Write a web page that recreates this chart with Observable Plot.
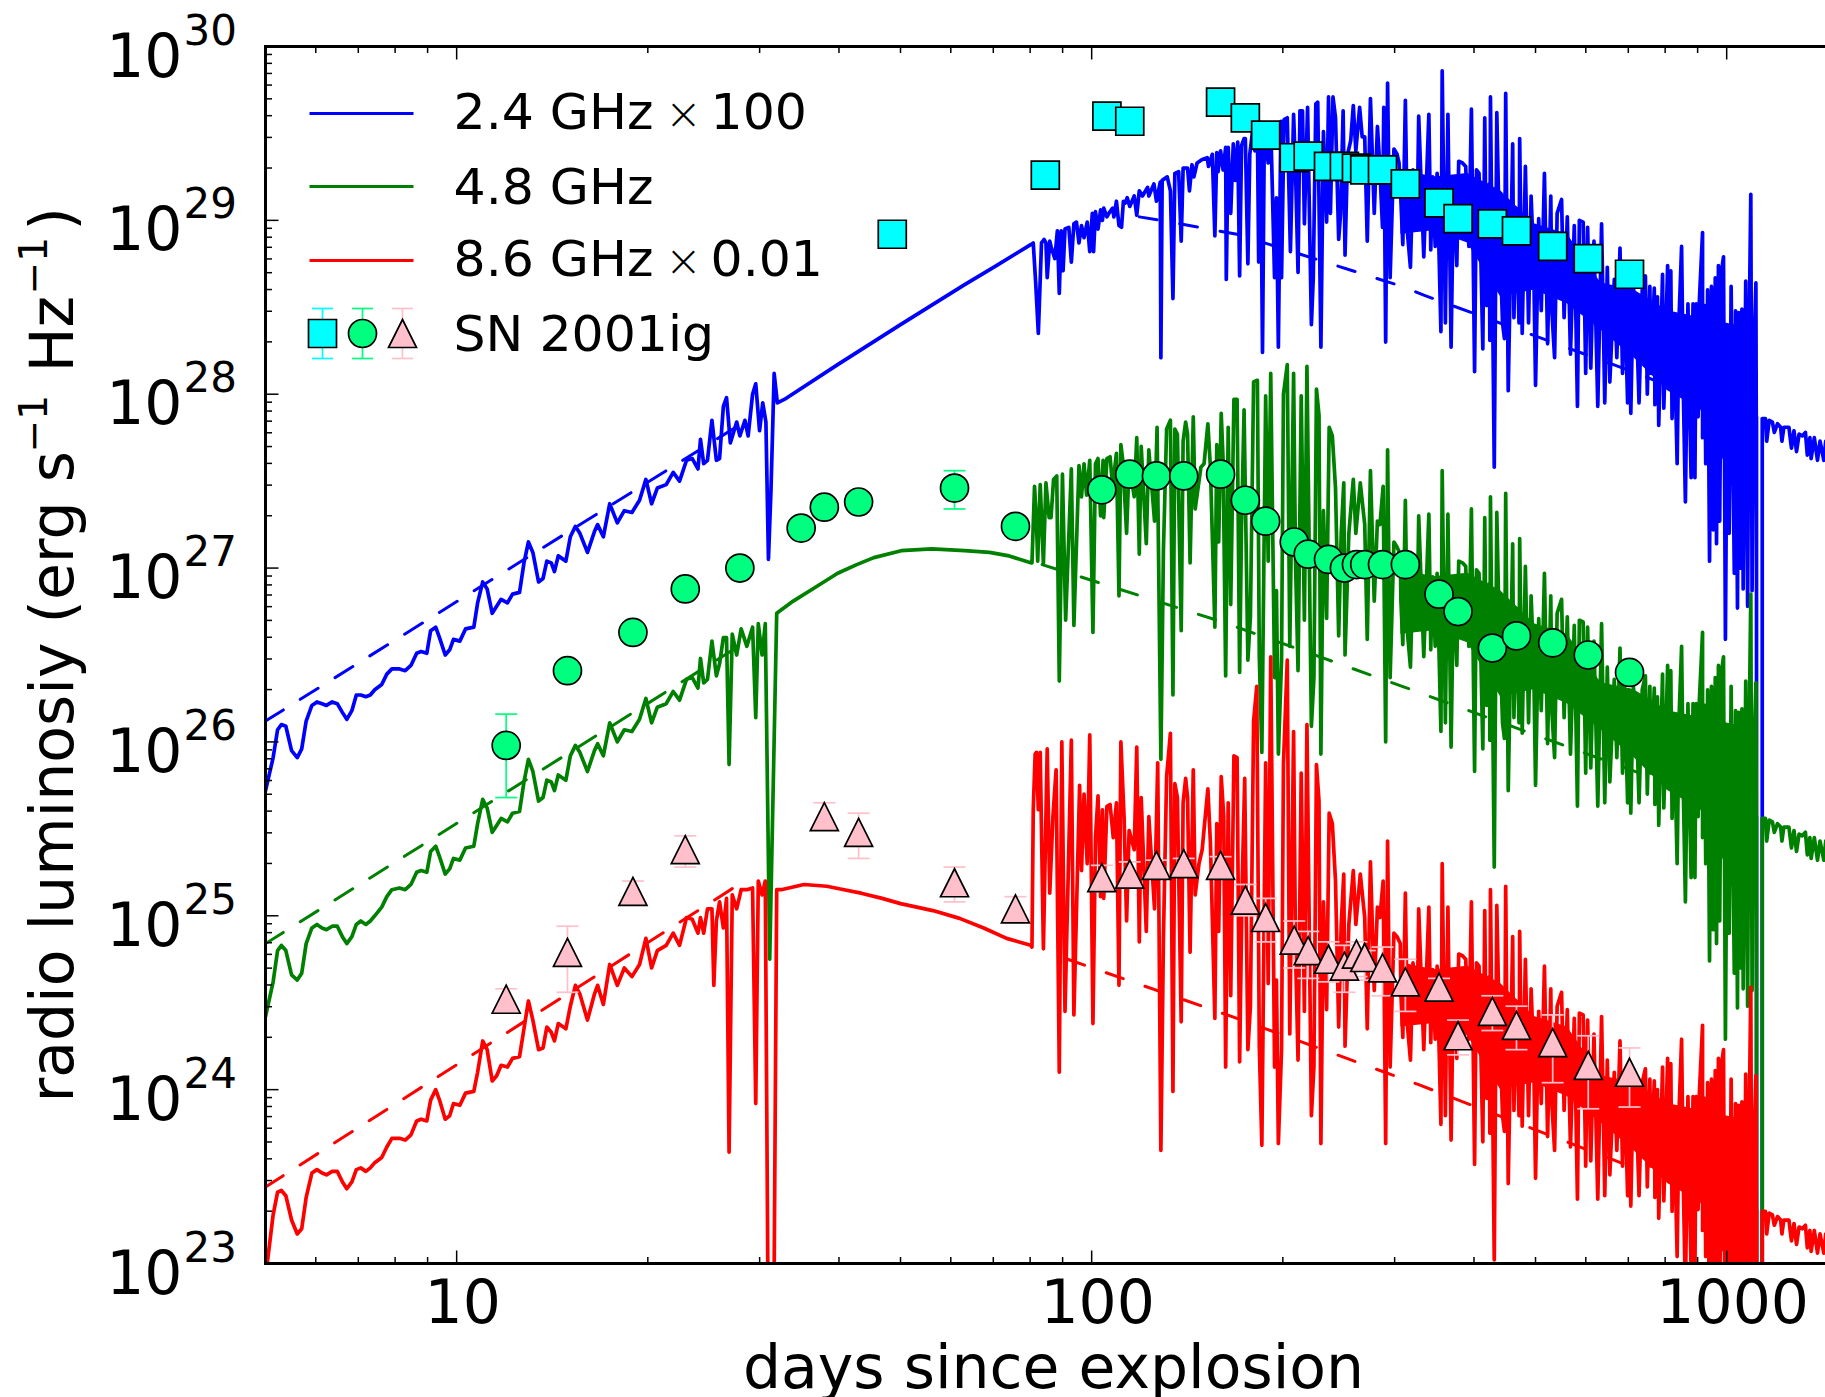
<!DOCTYPE html>
<html><head><meta charset="utf-8">
<script src="https://cdn.jsdelivr.net/npm/d3@7"></script>
<script src="https://cdn.jsdelivr.net/npm/@observablehq/plot@0.6"></script>
<style>html,body{margin:0;padding:0;background:#fff;overflow:hidden}svg{display:block}</style>
</head><body><div id="chart"></div>
<script>
// All curve values are log10(days), log10(luminosity).
const blueEarly=[.699,25.72,.711,25.91,.718,26.07,.724,26.10,.731,26.09,.740,25.95,.749,25.91,.756,25.96,.763,26.12,.772,26.21,.780,26.23,.788,26.22,.795,26.21,.804,26.23,.812,26.22,.820,26.17,.827,26.13,.835,26.18,.842,26.27,.849,26.27,.857,26.26,.864,26.27,.871,26.30,.882,26.33,.890,26.39,.898,26.42,.910,26.42,.919,26.41,.928,26.44,.937,26.51,.944,26.52,.953,26.51,.959,26.64,.967,26.66,.973,26.60,.982,26.50,.989,26.53,.995,26.59,1.005,26.58,1.014,26.65,1.027,26.66,1.033,26.80,1.041,26.92,1.048,26.88,1.056,26.74,1.063,26.78,1.070,26.82,1.080,26.80,1.088,26.85,1.099,26.86,1.106,27.03,1.113,27.15,1.120,27.09,1.129,26.92,1.136,26.94,1.142,27.04,1.149,27.03,1.154,26.98,1.160,27.07,1.172,27.04,1.179,27.18,1.187,27.24,1.194,27.20,1.206,27.09,1.217,27.21,1.222,27.25,1.231,27.18,1.241,27.37,1.253,27.26,1.264,27.33,1.276,27.32,1.288,27.39,1.298,27.51,1.307,27.37,1.316,27.46,1.330,27.48,1.341,27.55,1.351,27.50,1.362,27.62,1.371,27.63,1.380,27.57,1.384,27.74,1.389,27.60,1.395,27.62,1.402,27.85,1.409,27.62,1.414,27.63,1.420,27.93,1.425,27.98,1.431,27.72,1.441,27.84,1.446,27.76,1.454,27.85,1.459,27.76,1.466,28.00,1.471,28.06,1.477,27.79,1.482,27.95,1.487,27.84,1.491,27.05,1.495,27.45,1.500,28.12,1.505,27.95,1.516,27.97,1.60,28.17,1.699,28.40,1.80,28.63,1.85,28.74,1.904,28.86];
const blueMid=[1.908,28.87,1.912,28.63,1.916,28.35,1.921,28.87,1.925,28.89,1.928,28.87,1.930,28.67,1.934,28.88,1.936,28.85,1.942,28.78,1.946,28.94,1.949,28.58,1.952,28.94,1.955,28.71,1.958,28.95,1.964,28.96,1.968,28.76,1.972,28.98,1.976,28.99,1.980,28.87,1.984,28.97,1.988,28.90,1.993,28.99,1.997,28.82,2.001,29.04,2.003,28.82,2.006,29.05,2.010,28.95,2.014,29.06,2.017,29.00,2.019,29.07,2.024,29.02,2.027,29.04,2.033,29.07,2.035,29.02,2.039,29.11,2.043,28.97,2.047,28.96,2.050,29.11,2.053,29.10,2.056,29.13,2.060,29.08,2.067,29.14,2.071,29.03,2.075,29.17,2.080,29.14,2.088,29.19,2.090,29.14,2.098,29.21,2.102,29.11,2.108,29.22,2.109,28.21,2.111,29.23,2.119,29.25,2.124,29.17,2.128,28.55,2.131,29.27,2.137,29.28,2.141,28.88,2.144,29.30,2.151,29.30,2.154,29.17,2.158,29.32,2.161,29.25,2.166,29.33,2.174,29.35,2.182,29.36,2.184,29.31,2.190,29.38,2.194,28.91,2.197,29.39,2.199,29.28,2.203,29.40,2.207,29.29,2.211,29.42,2.212,28.66,2.215,29.42,2.219,29.04,2.223,29.44,2.226,29.23,2.230,29.45,2.233,28.68,2.236,29.43,2.240,29.47,2.242,29.47,2.246,28.75,2.249,29.38,2.253,29.50,2.257,29.40,2.261,29.52,2.263,28.76,2.266,29.52,2.269,28.24,2.272,29.54,2.278,29.33,2.282,29.55,2.288,28.67,2.291,29.13,2.294,28.27,2.298,29.57,2.299,28.67,2.303,29.58,2.308,29.59,2.313,28.82,2.318,29.61,2.321,29.29,2.325,28.70,2.328,29.63,2.332,29.63,2.335,28.98,2.340,29.65,2.346,28.40,2.349,28.67,2.353,29.67,2.356,29.68,2.361,28.27,2.365,29.51,2.370,28.99,2.373,29.71,2.376,29.04,2.380,29.71,2.384,29.59,2.389,28.89,2.392,29.04,2.396,29.63,2.399,28.80,2.403,29.38,2.408,29.46,2.412,29.66,2.416,29.40,2.422,29.65,2.426,29.48,2.430,29.48,2.434,28.88,2.439,29.70,2.445,29.04,2.450,29.54,2.453,29.36,2.458,28.96,2.460,29.65,2.463,28.30,2.466,29.79,2.470,28.67,2.476,29.41,2.481,29.38,2.484,29.33];
const greenEarly=[.699,24.42,.711,24.62,.718,24.80,.724,24.83,.731,24.80,.740,24.66,.749,24.63,.756,24.67,.763,24.84,.772,24.93,.780,24.95,.788,24.93,.795,24.92,.804,24.94,.812,24.94,.820,24.88,.827,24.84,.835,24.88,.842,24.95,.849,24.97,.857,24.95,.864,24.97,.871,25.00,.882,25.05,.890,25.11,.898,25.15,.910,25.16,.919,25.15,.928,25.18,.937,25.25,.944,25.26,.953,25.25,.959,25.37,.967,25.40,.973,25.34,.982,25.24,.989,25.27,.995,25.33,1.005,25.32,1.014,25.39,1.027,25.40,1.033,25.53,1.041,25.67,1.048,25.62,1.056,25.48,1.063,25.52,1.070,25.56,1.080,25.54,1.088,25.59,1.099,25.60,1.106,25.77,1.113,25.90,1.120,25.83,1.129,25.66,1.136,25.68,1.142,25.78,1.149,25.77,1.154,25.72,1.160,25.81,1.172,25.78,1.179,25.92,1.187,25.98,1.194,25.94,1.206,25.83,1.217,25.95,1.222,25.99,1.231,25.92,1.241,26.11,1.253,26.00,1.264,26.07,1.276,26.06,1.288,26.13,1.298,26.25,1.307,26.11,1.316,26.20,1.330,26.22,1.341,26.29,1.351,26.24,1.362,26.36,1.371,26.37,1.380,26.31,1.384,26.48,1.389,26.34,1.395,26.36,1.402,26.58,1.409,26.38,1.414,26.45,1.420,26.60,1.425,26.60,1.429,25.87,1.434,26.62,1.441,26.50,1.448,26.65,1.457,26.55,1.466,26.66,1.471,26.14,1.475,26.68,1.481,26.50,1.486,26.68,1.493,24.75,1.504,26.74,1.53,26.81,1.565,26.89,1.60,26.97,1.63,27.02,1.657,27.06,1.70,27.10,1.748,27.11,1.80,27.10,1.839,27.09,1.87,27.07,1.904,27.03];
const greenMid=[1.906,27.03,1.910,27.47,1.913,27.27,1.915,27.04,1.919,27.48,1.924,27.03,1.928,27.49,1.933,27.29,1.936,27.29,1.940,27.51,1.945,27.53,1.949,26.35,1.954,27.54,1.959,26.70,1.968,27.57,1.972,26.67,1.980,27.59,1.984,27.41,1.988,27.60,1.992,27.42,1.997,27.62,2.002,26.63,2.006,27.60,2.010,27.63,2.014,27.30,2.018,27.62,2.019,27.29,2.024,27.63,2.029,27.64,2.033,27.47,2.039,27.66,2.043,26.84,2.046,27.71,2.049,27.62,2.055,27.20,2.059,27.60,2.067,27.41,2.071,27.75,2.075,27.08,2.078,27.70,2.086,27.14,2.090,27.68,2.099,27.27,2.103,27.81,2.109,25.90,2.113,27.10,2.118,27.80,2.124,27.85,2.128,26.27,2.131,27.80,2.135,27.77,2.141,26.64,2.144,27.73,2.148,27.84,2.151,27.77,2.155,27.03,2.160,27.87,2.163,27.34,2.172,27.58,2.177,27.60,2.183,27.83,2.187,27.58,2.194,26.66,2.197,27.71,2.200,27.15,2.204,27.89,2.207,27.62,2.211,26.38,2.215,27.81,2.219,26.79,2.224,27.97,2.229,27.97,2.233,26.40,2.236,27.24,2.240,27.91,2.246,26.47,2.250,26.72,2.255,28.07,2.261,28.08,2.264,26.49,2.268,25.94,2.274,27.99,2.278,27.04,2.282,28.12,2.288,26.37,2.291,26.87,2.294,25.93,2.299,26.47,2.302,28.00,2.308,28.17,2.312,26.55,2.318,28.12,2.321,27.04,2.325,26.41,2.330,27.99,2.335,26.70,2.339,28.16,2.346,26.09,2.350,26.37,2.354,28.03,2.358,27.88,2.361,25.93,2.365,27.33,2.370,26.71,2.374,27.81,2.379,27.76,2.384,27.46,2.389,26.61,2.393,27.20,2.397,27.49,2.399,26.50,2.405,27.20,2.412,27.51,2.416,27.20,2.423,27.49,2.430,27.25,2.434,26.59,2.439,27.56,2.445,26.81,2.450,27.27,2.454,27.25,2.459,27.47,2.463,26.00,2.466,27.68,2.470,26.37,2.476,27.15,2.481,27.12,2.486,27.08];
const redEarly=[.699,22.92,.711,23.28,.718,23.41,.724,23.42,.731,23.39,.740,23.25,.749,23.17,.756,23.20,.763,23.38,.772,23.52,.780,23.54,.788,23.52,.795,23.51,.804,23.53,.812,23.53,.820,23.47,.827,23.43,.835,23.47,.842,23.54,.849,23.55,.857,23.53,.864,23.55,.871,23.58,.882,23.61,.890,23.67,.898,23.72,.910,23.72,.919,23.71,.928,23.74,.937,23.82,.944,23.83,.953,23.82,.959,23.94,.967,24.00,.973,23.94,.982,23.83,.989,23.85,.995,23.92,1.005,23.91,1.014,23.98,1.027,23.99,1.033,24.10,1.041,24.28,1.048,24.23,1.056,24.05,1.063,24.08,1.070,24.14,1.080,24.13,1.088,24.18,1.099,24.19,1.106,24.35,1.113,24.51,1.120,24.40,1.129,24.23,1.136,24.24,1.142,24.36,1.149,24.33,1.154,24.28,1.160,24.38,1.172,24.35,1.179,24.48,1.187,24.60,1.194,24.55,1.206,24.40,1.217,24.55,1.222,24.60,1.231,24.49,1.241,24.72,1.253,24.60,1.264,24.70,1.276,24.65,1.288,24.72,1.298,24.87,1.307,24.70,1.316,24.80,1.330,24.83,1.341,24.90,1.351,24.83,1.362,24.99,1.371,24.98,1.380,24.90,1.384,24.99,1.389,24.90,1.395,25.04,1.402,25.04,1.405,24.60,1.409,24.97,1.414,25.08,1.420,24.93,1.425,25.10,1.429,23.64,1.434,25.12,1.441,25.04,1.448,25.15,1.457,25.15,1.466,25.16,1.471,23.92,1.475,25.20,1.481,25.12,1.486,25.20,1.491,22.41,1.499,22.41,1.504,25.15,1.511,25.15,1.547,25.18,1.583,25.17,1.61,25.15,1.637,25.13,1.67,25.10,1.699,25.07,1.75,25.03,1.792,24.985,1.83,24.93,1.866,24.87,1.904,24.83];
const redMid=[1.906,24.82,1.908,25.61,1.911,25.93,1.913,25.94,1.916,25.61,1.919,25.94,1.924,24.81,1.930,25.96,1.934,25.13,1.939,25.57,1.944,25.84,1.949,24.10,1.953,26.00,1.958,24.45,1.968,26.01,1.972,24.43,1.981,25.75,1.984,25.26,1.988,25.70,1.993,25.30,1.997,26.04,2.002,24.38,2.006,25.45,2.010,25.69,2.014,25.11,2.017,25.61,2.019,25.10,2.024,25.63,2.029,25.64,2.034,25.45,2.039,25.65,2.043,24.60,2.046,26.00,2.051,25.57,2.055,24.97,2.059,25.49,2.067,25.38,2.071,25.97,2.075,24.85,2.078,25.68,2.086,24.91,2.090,25.57,2.099,25.04,2.104,25.88,2.109,23.65,2.113,24.87,2.118,25.80,2.124,26.05,2.128,23.99,2.131,25.76,2.135,25.68,2.141,24.39,2.144,25.65,2.148,25.79,2.151,25.68,2.155,24.79,2.160,25.84,2.163,25.12,2.169,25.30,2.174,25.38,2.183,25.73,2.187,25.42,2.194,24.41,2.197,25.53,2.200,24.91,2.204,25.80,2.208,25.57,2.211,24.13,2.215,25.65,2.219,24.54,2.224,25.92,2.229,25.91,2.233,24.16,2.237,25.18,2.241,25.79,2.246,24.23,2.250,24.48,2.255,26.12,2.260,26.32,2.264,24.25,2.268,23.68,2.274,25.88,2.278,24.61,2.282,26.49,2.288,24.13,2.291,24.63,2.294,23.69,2.299,24.23,2.302,25.87,2.308,26.47,2.312,24.32,2.318,26.06,2.321,24.80,2.325,24.17,2.330,25.82,2.335,24.45,2.339,26.10,2.346,23.85,2.350,24.13,2.354,25.87,2.358,25.66,2.361,23.69,2.365,25.08,2.370,24.46,2.374,25.59,2.379,25.53,2.384,25.20,2.389,24.36,2.393,24.95,2.397,25.24,2.399,24.25,2.405,24.95,2.412,25.26,2.416,24.95,2.423,25.24,2.430,24.99,2.434,24.35,2.439,25.31,2.445,24.57,2.450,25.05,2.454,24.99,2.459,25.20,2.463,23.69,2.466,25.43,2.470,24.13,2.476,24.90,2.481,24.88,2.486,24.84];
const lateDays=[2.487,2.490,2.494,2.497,2.502,2.506,2.510,2.513,2.515,2.523,
2.531,2.533,2.534,2.537,2.541,2.544,2.550,2.552,2.557,2.561,
2.566,2.570,2.575,2.578,2.584,2.589,2.594,2.598,2.603,2.606,
2.610,2.616,2.619,2.622,2.626,2.627,2.628,2.634,2.638,2.641,
2.647,2.650,2.652,2.656,2.663,2.665,2.668,2.673,2.674,2.678,
2.683,2.688,2.692,2.696,2.699,2.704,2.708,2.713,2.718,2.723,
2.725,2.729,2.733,2.740,2.744,2.749,2.754,2.760,2.765,2.768,
2.774,2.778,2.781,2.786,2.791,2.797,2.803,2.808,2.812,2.816,
2.823,2.827,2.832,2.836,2.839,2.844,2.846,2.849,2.853,2.858,
2.862,2.867,2.872,2.875,2.879,2.881,2.886,2.887,2.891,2.893,
2.899,2.901,2.907,2.909,2.912,2.914,2.917,2.922,2.925,2.929,
2.932,2.935,2.939,2.942,2.944,2.947,2.950,2.952,2.955,2.957,
2.962,2.962,2.965,2.967,2.970,2.973,2.976,2.979,2.982,2.984,
2.987,2.989,2.992,2.995,2.998,3.001,3.004,3.007,3.012,3.014,
3.017,3.019,3.022,3.024,3.026,3.030,3.033,3.035,3.038,3.040,
3.043,3.046,3.047,3.047,3.047,3.056,3.056,3.061,3.063,3.067,
3.072,3.075,3.080,3.085,3.087,3.090,3.098,3.102,3.106,3.110,
3.114,3.119,3.124,3.127,3.131,3.133,3.138,3.143,3.147,3.153,
3.156,3.176];
const lateBlue=[29.11,28.86,29.69,28.94,28.73,29.29,29.12,29.09,29.60,28.79,
29.61,29.13,28.83,29.25,28.85,29.27,28.36,29.86,28.41,29.61,
28.27,29.23,28.74,29.34,29.33,29.31,28.85,29.64,28.13,29.29,
29.27,28.26,29.59,28.51,29.21,28.31,29.71,27.58,29.62,29.08,
28.41,28.32,29.73,28.02,29.44,28.44,29.07,28.41,29.47,28.35,
29.31,28.41,29.14,28.77,28.05,29.01,28.48,29.27,28.29,29.14,
28.46,28.21,29.04,29.12,28.44,29.02,28.23,28.97,27.93,29.00,
28.99,28.12,28.96,28.15,28.88,27.93,28.98,27.95,28.73,28.07,
28.66,28.21,28.84,28.12,28.64,27.95,28.60,27.89,28.62,28.42,
27.95,28.60,28.68,28.00,28.62,28.12,28.61,27.94,28.56,27.82,
28.69,27.92,28.74,28.06,28.71,27.86,28.41,27.60,28.44,28.85,
27.96,27.38,28.52,27.87,27.52,28.52,27.52,28.52,27.87,28.54,
28.93,27.75,28.51,27.60,28.60,27.04,28.62,27.22,28.67,27.14,
28.74,27.27,28.71,28.79,26.59,28.21,27.20,28.62,26.97,28.48,
26.77,28.47,27.00,28.49,26.88,28.65,26.78,28.25,29.15,26.87,
28.25,28.64,27.29,27.87,20,20,27.86,27.86,27.73,27.85,
27.84,27.78,27.83,27.81,27.73,27.81,27.81,27.69,27.79,27.67,
27.77,27.76,27.78,27.65,27.75,27.63,27.75,27.62,27.73,27.62,
27.73,27.70];
const lateGreen=[26.81,26.56,27.39,26.64,26.43,26.99,26.82,26.79,27.30,26.49,
27.31,26.83,26.53,26.95,26.55,26.97,26.06,27.56,26.11,27.31,
25.97,26.93,26.44,27.04,27.03,27.01,26.55,27.34,25.83,26.99,
26.97,25.96,27.29,26.21,26.91,26.01,27.41,25.28,27.32,26.78,
26.11,26.02,27.43,25.72,27.14,26.14,26.77,26.11,27.17,26.05,
27.01,26.11,26.84,26.47,25.75,26.71,26.18,26.97,25.99,26.84,
26.16,25.91,26.74,26.82,26.14,26.72,25.93,26.67,25.63,26.70,
26.69,25.82,26.66,25.85,26.58,25.63,26.68,25.65,26.43,25.77,
26.36,25.91,26.54,25.82,26.34,25.65,26.30,25.59,26.32,26.12,
25.65,26.30,26.38,25.70,26.32,25.82,26.31,25.64,26.26,25.52,
26.39,25.62,26.44,25.76,26.41,25.56,26.11,25.30,26.14,26.55,
25.66,25.08,26.22,25.57,25.22,26.22,25.22,26.22,25.57,26.24,
26.63,25.45,26.21,25.30,26.30,24.74,26.32,24.92,26.37,24.84,
26.44,24.97,26.41,26.49,24.29,25.91,24.90,26.32,24.67,26.18,
24.47,26.17,24.70,26.19,24.58,26.35,24.48,25.95,26.85,24.57,
25.95,26.34,24.99,25.57,20,20,25.56,25.56,25.43,25.55,
25.54,25.48,25.53,25.51,25.43,25.51,25.51,25.39,25.49,25.37,
25.47,25.46,25.48,25.35,25.45,25.33,25.45,25.32,25.43,25.32,
25.43,25.40];
const lateRed=[24.55,24.30,25.13,24.38,24.17,24.73,24.56,24.53,25.04,24.23,
25.05,24.57,24.27,24.69,24.29,24.71,23.80,25.30,23.85,25.05,
23.71,24.67,24.18,24.78,24.77,24.75,24.29,25.08,23.57,24.73,
24.71,23.70,25.03,23.95,24.65,23.75,25.15,23.02,25.06,24.52,
23.85,23.76,25.17,23.46,24.88,23.88,24.51,23.85,24.91,23.79,
24.75,23.85,24.58,24.21,23.49,24.45,23.92,24.71,23.73,24.58,
23.90,23.65,24.48,24.56,23.88,24.46,23.67,24.41,23.37,24.44,
24.43,23.56,24.40,23.59,24.32,23.37,24.42,23.39,24.17,23.51,
24.10,23.65,24.28,23.56,24.08,23.39,24.04,23.33,24.06,23.86,
23.39,24.04,24.12,23.44,24.06,23.56,24.05,23.38,24.00,23.26,
24.13,23.36,24.18,23.50,24.15,23.30,23.85,23.04,23.88,24.29,
23.40,22.82,23.96,23.31,22.96,23.96,22.96,23.96,23.31,23.98,
24.37,23.19,23.95,23.04,24.04,22.48,24.06,22.66,24.11,22.58,
24.18,22.71,24.15,24.23,22.03,23.65,22.64,24.06,22.41,23.92,
22.21,23.91,22.44,23.93,22.32,24.09,22.22,23.69,24.59,22.31,
23.69,24.08,22.73,23.31,20,20,23.30,23.30,23.17,23.29,
23.28,23.22,23.27,23.25,23.17,23.25,23.25,23.13,23.23,23.11,
23.21,23.20,23.22,23.09,23.19,23.07,23.19,23.06,23.17,23.06,
23.17,23.14];
// solid core of the dense noise: where the spikes merge into a band
const bandDays=[2.487,2.539,2.592,2.644,2.697,2.749,2.802,2.854,2.907,2.959,3.011,3.043];
const blueBandTop=[29.29,29.25,29.27,29.17,28.98,28.92,28.64,28.60,28.48,28.44,28.40,28.40];
const blueBandLow=[28.92,28.94,28.87,28.56,28.60,28.52,28.37,28.21,28.02,27.91,27.49,27.29];
const greenBandTop=[26.99,26.95,26.97,26.87,26.68,26.62,26.34,26.30,26.18,26.14,26.10,26.10];
const greenBandLow=[26.62,26.64,26.57,26.26,26.30,26.22,26.07,25.91,25.72,25.61,25.19,24.99];
const redBandTop=[24.73,24.69,24.71,24.61,24.42,24.36,24.08,24.04,23.92,23.88,23.84,23.84];
const redBandLow=[24.36,24.38,24.31,24.00,24.04,23.96,23.81,23.65,23.46,23.35,22.93,22.73];
// dashed model curves (log10 days, log10 L)
const blueDashEarly=[.699,26.12,1.457,27.85], blueDashLate=[2.075,29.02,2.109,29.00,2.229,28.92,2.489,28.62,2.523,28.57,2.859,28.12,2.90,28.06];
const greenDashEarly=[.699,24.84,1.457,26.58], greenDashLate=[1.922,27.02,2.206,26.69,2.489,26.32,2.886,25.79];
const redDashEarly=[.699,23.44,1.44,25.17], redDashLate=[1.962,24.75,2.229,24.41,2.514,24.03,2.84,23.57];
// SN 2001ig observations
const squareDays=[1.686,1.927,2.024,2.060,2.203,2.242,2.274,2.319,2.341,2.373,2.398,2.417,2.430,2.458,2.494,2.547,2.577,2.631,2.669,2.726,2.782,2.847];
const squareLog=[28.92,29.26,29.60,29.57,29.68,29.59,29.49,29.36,29.37,29.31,29.31,29.30,29.29,29.29,29.21,29.10,29.01,28.98,28.94,28.85,28.78,28.69];
const circleDays=[1.078,1.1745,1.2776,1.360,1.446,1.5425,1.579,1.633,1.784,1.880,2.016,2.060,2.102,2.145,2.203,2.242,2.274,2.319,2.341,2.373,2.398,2.417,2.430,2.458,2.494,2.547,2.577,2.631,2.669,2.726,2.782,2.847];
const circleLog=[25.98,26.41,26.63,26.88,27.00,27.23,27.35,27.38,27.46,27.24,27.45,27.54,27.53,27.53,27.54,27.39,27.27,27.15,27.08,27.05,27.00,27.02,27.02,27.02,27.02,26.85,26.75,26.54,26.61,26.57,26.50,26.40];
const circleErrDays=[1.078,1.784], circleErrHigh=[26.16,27.56], circleErrLow=[25.68,27.34];
const triDays=[1.078,1.1745,1.2776,1.360,1.579,1.633,1.784,1.880,2.016,2.060,2.102,2.145,2.203,2.242,2.274,2.319,2.341,2.373,2.398,2.417,2.430,2.458,2.494,2.547,2.577,2.631,2.669,2.726,2.782,2.847];
const triLog=[24.52,24.79,25.14,25.38,25.57,25.48,25.19,25.04,25.22,25.24,25.29,25.30,25.29,25.09,24.99,24.86,24.80,24.75,24.71,24.78,24.76,24.70,24.62,24.59,24.31,24.45,24.37,24.27,24.14,24.10];
const triHigh=[24.58,24.94,25.20,25.46,25.65,25.59,25.28,25.11,25.29,25.31,25.32,25.33,25.34,25.18,25.10,24.97,24.91,24.85,24.83,24.85,24.80,24.82,24.75,24.64,24.40,24.54,24.48,24.43,24.31,24.24];
const triLow=[24.46,24.56,25.08,25.28,25.50,25.33,25.08,24.98,25.14,25.17,25.24,25.25,25.24,25.00,24.85,24.70,24.64,24.62,24.56,24.65,24.63,24.54,24.45,24.54,24.20,24.34,24.23,24.04,23.89,23.90];
// axes and legend
const xMajor=[10,100,1000];
const xMinor=[6,7,8,9,20,30,40,50,60,70,80,90,200,300,400,500,600,700,800,900];
const yDecades=[23,24,25,26,27,28,29,30];
const yFactors=[2,3,4,5,6,7,8,9];
const legendLabels=["2.4 GHz","4.8 GHz","8.6 GHz","SN 2001ig"];
const legendFactors=["100",null,"0.01",null];
const lineColors=["#0000ff","#008000","#ff0000"];

const pow=v=>10**v;
const pairs=a=>{const o=[];for(let i=0;i<a.length;i+=2)o.push({x:pow(a[i]),y:pow(a[i+1])});return o;};
const zip=(xs,ys)=>xs.map((x,i)=>({x:pow(x),y:pow(ys[i])}));
const blue=[...pairs(blueEarly),...pairs(blueMid),...zip(lateDays,lateBlue)];
const green=[...pairs(greenEarly),...pairs(greenMid),...zip(lateDays,lateGreen)];
const red=[...pairs(redEarly),...pairs(redMid),...zip(lateDays,lateRed)];

const seg=(ax,ay,bx,by)=>({draw(c,s){const r=Math.sqrt(s/Math.PI);c.moveTo(ax*r,ay*r);c.lineTo(bx*r,by*r);}});
const hLine=seg(-1,0,1,0), vLine=seg(0,-1,0,1), tickUp=seg(0,0,0,-1), tickDown=seg(0,0,0,1), tickRight=seg(0,0,1,0), tickLeft=seg(0,0,-1,0);
const sq={draw(c,s){const r=Math.sqrt(s/Math.PI);c.rect(-r,-r,2*r,2*r);}};
const tri={draw(c,s){const r=Math.sqrt(s/Math.PI);c.moveTo(0,-r);c.lineTo(r,r);c.lineTo(-r,r);c.closePath();}};
const XMIN=5, XMAX=1500, YMIN=1e23, YMAX=1e30;
const ms=14, F=60, FS=39, FSUP=42, FL=50.5, LW=3.7, EW=1.7;

const solid=(data,color)=>Plot.line(data,{x:"x",y:"y",stroke:color,strokeWidth:LW,clip:true});
const band=(top,low,color)=>Plot.areaY(bandDays.map((d,i)=>({x:pow(d),y1:pow(low[i]),y2:pow(top[i])})),{x:"x",y1:"y1",y2:"y2",fill:color,clip:true});
const dash=(data,color,pat)=>Plot.line(pairs(data),{x:"x",y:"y",stroke:color,strokeWidth:3,strokeDasharray:pat,clip:true});
const errors=(days,hi,lo,color,capR)=>[
  Plot.ruleX(days.map((d,i)=>({x:pow(d),y1:pow(lo[i]),y2:pow(hi[i])})),{x:"x",y1:"y1",y2:"y2",stroke:color,strokeWidth:EW}),
  Plot.dot(days.flatMap((d,i)=>[{x:pow(d),y:pow(hi[i])},{x:pow(d),y:pow(lo[i])}]),{x:"x",y:"y",symbol:hLine,r:capR,stroke:color,strokeWidth:EW})
];
const fa="top-left";
const ylab=(t,size,dx,dy)=>Plot.text([t],{frameAnchor:fa,text:d=>d,rotate:-90,fontSize:size,textAnchor:"start",lineAnchor:"bottom",dx,dy,fill:"#000"});
const fig=Plot.plot({
  width:1825,height:1397,marginLeft:265,marginRight:-13,marginTop:46,marginBottom:134,
  style:{background:"#fff",fontFamily:"'DejaVu Sans'",overflow:"hidden"},
  x:{type:"log",domain:[XMIN,XMAX],axis:null},
  y:{type:"log",domain:[YMIN,YMAX],axis:null},
  marks:[
    band(blueBandTop,blueBandLow,lineColors[0]),
    solid(blue,lineColors[0]),
    dash(blueDashEarly,lineColors[0],"21,20"),dash(blueDashLate,lineColors[0],"18,23"),
    band(greenBandTop,greenBandLow,lineColors[1]),
    solid(green,lineColors[1]),
    dash(greenDashEarly,lineColors[1],"21,20"),dash(greenDashLate,lineColors[1],"18,23"),
    band(redBandTop,redBandLow,lineColors[2]),
    solid(red,lineColors[2]),
    dash(redDashEarly,lineColors[2],"21,20"),dash(redDashLate,lineColors[2],"18,23"),
    // SN 2001ig
    Plot.dot(squareDays.map((d,i)=>({x:pow(d),y:pow(squareLog[i])})),{x:"x",y:"y",symbol:sq,r:ms,fill:"#00ffff",stroke:"#000",strokeWidth:EW}),
    ...errors(circleErrDays,circleErrHigh,circleErrLow,"#00ff7f",11),
    Plot.dot(circleDays.map((d,i)=>({x:pow(d),y:pow(circleLog[i])})),{x:"x",y:"y",r:ms,fill:"#00ff7f",stroke:"#000",strokeWidth:EW}),
    ...errors(triDays,triHigh,triLow,"#ffc0cb",11),
    Plot.dot(triDays.map((d,i)=>({x:pow(d),y:pow(triLog[i])})),{x:"x",y:"y",symbol:tri,r:ms,fill:"#ffc0cb",stroke:"#000",strokeWidth:EW}),
    // frame and ticks
    Plot.frame({stroke:"#000",strokeWidth:3}),
    Plot.dot(xMajor,{x:d=>d,y:()=>YMIN,symbol:tickUp,r:13,stroke:"#000",strokeWidth:1.5}),
    Plot.dot(xMajor,{x:d=>d,y:()=>YMAX,symbol:tickDown,r:13,stroke:"#000",strokeWidth:1.5}),
    Plot.dot(xMinor,{x:d=>d,y:()=>YMIN,symbol:tickUp,r:6.5,stroke:"#000",strokeWidth:1.5}),
    Plot.dot(xMinor,{x:d=>d,y:()=>YMAX,symbol:tickDown,r:6.5,stroke:"#000",strokeWidth:1.5}),
    Plot.dot(yDecades,{x:()=>XMIN,y:d=>pow(d),symbol:tickRight,r:13,stroke:"#000",strokeWidth:1.5}),
    Plot.dot(yDecades,{x:()=>XMAX,y:d=>pow(d),symbol:tickLeft,r:13,stroke:"#000",strokeWidth:1.5}),
    Plot.dot(yDecades.slice(0,-1).flatMap(k=>yFactors.map(f=>f*pow(k))),{x:()=>XMIN,y:d=>d,symbol:tickRight,r:6.5,stroke:"#000",strokeWidth:1.5}),
    // tick labels
    Plot.text(xMajor,{x:d=>d,y:()=>YMIN,text:d=>String(d),fontSize:F,textAnchor:"middle",lineAnchor:"bottom",dy:59,dx:6,fill:"#000"}),
    Plot.text(yDecades,{x:()=>XMIN,y:d=>pow(d),text:()=>"10",fontSize:F,textAnchor:"end",lineAnchor:"bottom",dx:-83,dy:30,fill:"#000"}),
    Plot.text(yDecades,{x:()=>XMIN,y:d=>pow(d),text:d=>String(d),fontSize:FSUP,textAnchor:"start",lineAnchor:"bottom",dx:-82,dy:-2,fill:"#000"}),
    // axis titles
    Plot.text(["days since explosion"],{frameAnchor:fa,text:d=>d,fontSize:F,textAnchor:"middle",lineAnchor:"bottom",dx:788,dy:1341,fill:"#000"}),
    ylab("radio luminosiy (erg s",F,-193,1056),
    ylab("−1",FS,-219,406),
    ylab("Hz",F,-193,326),
    ylab("−1",FS,-219,248),
    ylab(")",F,-193,184),
    // legend
    ...legendLabels.map((t,i)=>Plot.text([t],{frameAnchor:fa,text:d=>d,fontSize:FL,textAnchor:"start",lineAnchor:"bottom",dx:188,dy:[82,157,229,304][i],fill:"#000"})),
    ...legendFactors.flatMap((t,i)=>t===null?[]:[
      Plot.text(["×"],{frameAnchor:fa,text:d=>d,fontSize:44,fontWeight:200,textAnchor:"middle",lineAnchor:"bottom",dx:418,dy:[82,157,229,304][i],fill:"#000"}),
      Plot.text([t],{frameAnchor:fa,text:d=>d,fontSize:FL,textAnchor:"start",lineAnchor:"bottom",dx:445,dy:[82,157,229,304][i],fill:"#000"})
    ]),
    ...lineColors.map((c,i)=>Plot.dot([0],{frameAnchor:fa,symbol:hLine,r:52,stroke:c,strokeWidth:3,dx:96,dy:[67,140,214][i]})),
    ...[["#00ffff",57,sq],["#00ff7f",97,"circle"],["#ffc0cb",137,tri]].flatMap(([c,dx,sym])=>[
      Plot.dot([0],{frameAnchor:fa,symbol:vLine,r:25,stroke:c,strokeWidth:EW,dx,dy:287}),
      Plot.dot([0],{frameAnchor:fa,symbol:hLine,r:10.5,stroke:c,strokeWidth:EW,dx,dy:262}),
      Plot.dot([0],{frameAnchor:fa,symbol:hLine,r:10.5,stroke:c,strokeWidth:EW,dx,dy:312}),
      Plot.dot([0],{frameAnchor:fa,symbol:sym,r:14,fill:c,stroke:"#000",strokeWidth:EW,dx,dy:287})
    ])
  ]
});
document.getElementById("chart").appendChild(fig);
</script></body></html>
